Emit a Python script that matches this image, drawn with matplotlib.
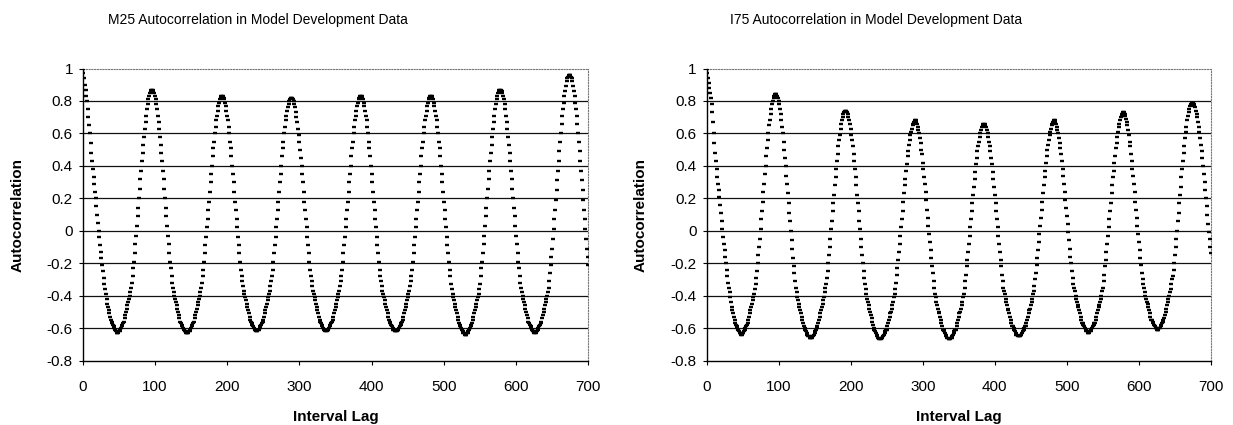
import numpy as np
import matplotlib
matplotlib.use("Agg")
import matplotlib.pyplot as plt

plt.rcParams['font.family'] = ['Liberation Sans', 'DejaVu Sans']

# Autocorrelation per interval lag (0..700), in hundredths
m25Acf = [
    100, 97, 94, 90, 87, 83, 80, 75, 70, 65, 60, 54, 48, 43, 38, 33, 29, 24, 20, 15, 10, 5, 0, -4, -9, -13, -17, -21, -25, -29, -33, -36, -39, -42, -45, -47, -49, -51, -53, -55, -56, -57, -58, -59, -60, -61, -62, -63,  # 0-47
    -63, -63, -62, -62, -61, -60, -59, -58, -57, -56, -54, -52, -50, -48, -46, -44, -42, -40, -38, -35, -32, -28, -23, -19, -14, -8, -3, 3, 9, 14, 20, 26, 32, 37, 43, 48, 53, 58, 63, 67, 71, 75, 78, 81, 83, 85, 86, 87,  # 48-95
    87, 87, 86, 85, 83, 81, 78, 75, 71, 67, 63, 58, 53, 48, 43, 37, 32, 26, 20, 14, 9, 3, -3, -8, -14, -19, -23, -28, -32, -35, -38, -40, -42, -44, -46, -48, -50, -52, -54, -56, -57, -58, -59, -60, -61, -62, -62, -63, -63,  # 96-144
    -63, -63, -62, -62, -61, -60, -59, -58, -57, -56, -54, -52, -50, -48, -46, -44, -42, -40, -38, -35, -32, -28, -24, -19, -14, -9, -4, 2, 7, 13, 18, 24, 30, 35, 40, 46, 51, 55, 60, 64, 68, 71, 74, 77, 79, 81, 82, 83,  # 145-192
    83, 83, 82, 81, 79, 77, 74, 71, 68, 64, 60, 55, 51, 46, 40, 35, 30, 24, 18, 13, 7, 2, -4, -9, -14, -19, -24, -28, -31, -34, -37, -39, -41, -43, -45, -47, -49, -51, -53, -55, -56, -57, -58, -59, -60, -61, -61, -62,  # 193-240
    -62, -62, -61, -61, -60, -59, -58, -57, -56, -55, -53, -51, -49, -47, -45, -43, -41, -39, -37, -34, -31, -28, -24, -19, -14, -9, -4, 2, 7, 13, 18, 24, 30, 35, 40, 46, 51, 55, 60, 64, 68, 71, 74, 76, 78, 80, 81, 82,  # 241-288
    82, 82, 81, 80, 78, 76, 73, 70, 67, 63, 59, 55, 50, 45, 40, 35, 30, 24, 18, 13, 7, 2, -4, -9, -14, -19, -24, -28, -31, -34, -37, -39, -41, -43, -45, -47, -49, -51, -53, -55, -56, -57, -58, -59, -60, -61, -61, -62,  # 289-336
    -62, -62, -61, -61, -60, -59, -58, -57, -56, -55, -53, -51, -49, -47, -45, -43, -41, -39, -37, -34, -31, -28, -24, -19, -14, -9, -4, 2, 7, 13, 18, 24, 30, 35, 40, 46, 51, 55, 60, 64, 68, 71, 74, 77, 79, 81, 82, 83,  # 337-384
    83, 83, 82, 81, 79, 77, 74, 71, 68, 64, 60, 55, 51, 46, 40, 35, 30, 24, 18, 13, 7, 2, -4, -9, -14, -19, -24, -28, -31, -34, -37, -39, -41, -43, -45, -47, -49, -51, -53, -55, -56, -57, -58, -59, -60, -61, -61, -62,  # 385-432
    -62, -62, -62, -61, -61, -60, -59, -58, -57, -56, -55, -53, -51, -49, -47, -45, -43, -41, -39, -37, -34, -31, -28, -24, -19, -14, -9, -4, 2, 7, 13, 18, 24, 30, 35, 40, 46, 51, 55, 60, 64, 68, 71, 74, 77, 79, 81, 82, 83,  # 433-481
    83, 83, 82, 81, 79, 77, 74, 71, 68, 64, 60, 55, 51, 46, 40, 35, 30, 24, 18, 13, 7, 2, -4, -9, -14, -19, -24, -28, -33, -36, -39, -41, -43, -45, -47, -49, -51, -53, -55, -57, -58, -59, -60, -61, -62, -63, -63, -64,  # 482-529
    -64, -64, -63, -63, -62, -61, -60, -59, -58, -57, -55, -53, -51, -49, -47, -45, -43, -41, -39, -36, -33, -28, -23, -19, -14, -8, -3, 3, 9, 14, 20, 26, 32, 37, 43, 48, 53, 58, 63, 67, 71, 75, 78, 81, 83, 85, 86, 87,  # 530-577
    87, 87, 86, 85, 83, 81, 78, 75, 71, 67, 63, 58, 53, 48, 43, 37, 32, 26, 20, 14, 9, 3, -3, -8, -14, -19, -23, -28, -32, -35, -38, -40, -42, -44, -46, -48, -50, -52, -54, -56, -57, -58, -59, -60, -61, -62, -62, -63,  # 578-625
    -63, -63, -62, -62, -61, -60, -59, -58, -57, -56, -54, -52, -50, -48, -46, -44, -42, -40, -38, -35, -31, -26, -21, -16, -11, -5, 1, 7, 13, 19, 25, 31, 37, 43, 49, 55, 60, 66, 71, 75, 79, 83, 86, 89, 92, 94, 95, 96,  # 626-673
    96, 96, 95, 94, 92, 89, 86, 83, 79, 75, 71, 66, 60, 55, 49, 43, 37, 31, 25, 19, 13, 7, 1, -5, -11, -16, -21,  # 674-700
]

i75Acf = [
    100, 97, 94, 91, 88, 85, 82, 78, 73, 67, 60, 54, 48, 43, 38, 33, 29, 25, 21, 16, 11, 6, 1, -4, -8, -12, -16, -20, -24, -28, -32, -35, -38, -41, -44, -47, -49, -51, -53, -55, -57, -58, -59, -60, -61, -62, -63, -63,  # 0-47
    -64, -64, -63, -63, -62, -61, -60, -59, -58, -57, -55, -53, -51, -49, -47, -45, -43, -41, -39, -36, -33, -29, -25, -20, -15, -10, -5, 1, 7, 12, 18, 24, 29, 35, 40, 46, 51, 56, 60, 65, 68, 72, 75, 78, 80, 82, 83, 84,  # 48-95
    84, 84, 83, 82, 80, 78, 75, 72, 68, 64, 60, 55, 50, 45, 40, 34, 29, 23, 17, 11, 6, 0, -6, -11, -17, -22, -26, -31, -35, -38, -41, -43, -45, -47, -49, -51, -53, -55, -57, -59, -60, -61, -62, -63, -64, -65, -65, -66, -66,  # 96-144
    -66, -66, -65, -65, -64, -63, -62, -61, -60, -59, -57, -55, -53, -51, -49, -47, -45, -43, -41, -38, -35, -33, -29, -25, -20, -15, -10, -5, 1, 6, 12, 17, 22, 28, 33, 38, 43, 47, 52, 56, 59, 63, 66, 68, 70, 72, 73, 74,  # 145-192
    74, 74, 73, 72, 70, 68, 66, 63, 59, 56, 52, 47, 43, 38, 33, 28, 22, 17, 12, 6, 1, -5, -10, -15, -20, -25, -29, -33, -36, -39, -42, -44, -46, -48, -50, -52, -54, -56, -58, -60, -61, -62, -63, -64, -65, -66, -66, -67,  # 193-240
    -67, -67, -66, -66, -65, -64, -63, -62, -61, -61, -59, -57, -55, -53, -51, -50, -48, -46, -44, -41, -39, -36, -32, -27, -23, -18, -13, -8, -3, 2, 7, 12, 18, 23, 28, 32, 37, 41, 46, 49, 53, 56, 59, 61, 63, 65, 66, 67,  # 241-288
    68, 68, 67, 66, 64, 62, 60, 57, 54, 50, 47, 42, 38, 33, 29, 24, 19, 13, 8, 3, -2, -7, -12, -17, -22, -26, -31, -35, -39, -41, -44, -46, -48, -50, -51, -53, -55, -57, -59, -61, -61, -62, -63, -64, -65, -66, -66, -67,  # 289-336
    -67, -67, -66, -66, -65, -64, -63, -62, -61, -61, -59, -57, -55, -53, -51, -50, -48, -46, -44, -41, -39, -35, -31, -27, -22, -18, -13, -8, -3, 2, 7, 12, 17, 22, 27, 32, 36, 41, 45, 49, 52, 55, 58, 60, 62, 64, 65, 66,  # 337-384
    66, 66, 65, 64, 62, 60, 58, 55, 52, 49, 45, 41, 36, 32, 27, 22, 17, 12, 7, 2, -3, -8, -13, -18, -22, -27, -31, -35, -37, -39, -42, -44, -46, -48, -49, -51, -53, -55, -57, -59, -59, -60, -61, -62, -63, -64, -64, -65,  # 385-432
    -65, -65, -65, -64, -64, -63, -62, -61, -60, -59, -59, -57, -55, -53, -51, -49, -48, -46, -44, -42, -39, -37, -34, -30, -26, -21, -17, -12, -7, -2, 3, 8, 13, 18, 23, 28, 33, 37, 42, 46, 50, 53, 56, 59, 61, 63, 65, 66, 67,  # 433-481
    68, 68, 67, 66, 64, 62, 60, 57, 54, 51, 47, 43, 38, 34, 29, 24, 19, 14, 9, 4, -1, -6, -11, -16, -20, -25, -29, -33, -35, -37, -40, -42, -44, -46, -47, -49, -51, -53, -55, -57, -57, -58, -59, -60, -61, -62, -62, -63,  # 482-529
    -63, -63, -62, -62, -61, -60, -59, -58, -57, -57, -55, -53, -51, -49, -47, -46, -44, -42, -40, -37, -35, -31, -27, -22, -18, -13, -8, -3, 2, 7, 12, 17, 23, 28, 33, 37, 42, 46, 51, 54, 58, 61, 64, 66, 68, 70, 71, 72,  # 530-577
    73, 73, 72, 71, 69, 67, 65, 62, 59, 55, 52, 47, 43, 38, 34, 29, 24, 18, 13, 8, 3, -2, -7, -12, -17, -21, -26, -30, -33, -35, -38, -40, -42, -44, -45, -47, -49, -51, -53, -55, -55, -56, -57, -58, -59, -60, -60, -61,  # 578-625
    -61, -61, -60, -60, -59, -58, -57, -56, -55, -54, -52, -50, -48, -46, -44, -42, -40, -38, -36, -33, -30, -28, -24, -20, -15, -10, -5, 0, 6, 11, 17, 22, 27, 33, 38, 43, 48, 52, 57, 61, 64, 68, 71, 73, 75, 77, 78, 79,  # 626-673
    79, 79, 78, 77, 76, 74, 72, 70, 67, 64, 61, 57, 53, 49, 45, 40, 35, 30, 25, 20, 15, 10, 4, -1, -5, -10, -14,  # 674-700
]

panelTitles = ["M25 Autocorrelation in Model Development Data",
               "I75 Autocorrelation in Model Development Data"]
xTicks = [0, 100, 200, 300, 400, 500, 600, 700]
yTicks = [-0.8, -0.6, -0.4, -0.2, 0, 0.2, 0.4, 0.6, 0.8, 1]
yTickLabels = ["-0.8", "-0.6", "-0.4", "-0.2", "0", "0.2", "0.4", "0.6", "0.8", "1"]

W, H = 1233, 425
fig = plt.figure(figsize=(W / 100, H / 100), dpi=100)

# pixel boxes of the two plot areas: left, right, top, bottom
boxes = [(82.7, 588.3, 68.5, 360.5), (706.5, 1211.0, 68.5, 360.5)]
titleX = [258, 876]
yLabelX = [18, 641]

for i, series in enumerate([m25Acf, i75Acf]):
    x0, x1, y0, y1 = boxes[i]
    ax = fig.add_axes([x0 / W, 1 - y1 / H, (x1 - x0) / W, (y1 - y0) / H])
    lags = np.arange(len(series))
    vals = np.array(series) / 100.0

    for yv in yTicks[1:-1]:
        ax.axhline(yv, color="#111111", lw=0.9, zorder=1)
    ax.plot(lags, vals, ls="none", marker="_", ms=2.7, mew=1.7,
            color="black", zorder=3)

    ax.set_xlim(0, 700)
    ax.set_ylim(-0.8, 1.0)
    ax.set_xticks(xTicks)
    ax.set_xticklabels([str(t) for t in xTicks])
    ax.set_yticks(yTicks)
    ax.set_yticklabels(yTickLabels)
    ax.tick_params(axis="both", direction="out", length=3, width=0.8,
                   labelsize=11, colors="black")
    ax.tick_params(axis="x", pad=11)
    ax.tick_params(axis="y", pad=4)

    for side in ["left", "bottom"]:
        ax.spines[side].set_color("black")
        ax.spines[side].set_linewidth(1.0)
    for side in ["top", "right"]:
        ax.spines[side].set_color("#777777")
        ax.spines[side].set_linewidth(0.8)
        ax.spines[side].set_linestyle((0, (1, 1.5)))

    fig.text(titleX[i] / W, 1 - 20 / H, panelTitles[i], ha="center",
             va="center", fontsize=10)
    fig.text(yLabelX[i] / W, 1 - (y0 + y1) / 2 / H, "Autocorrelation",
             rotation=90, ha="center", va="center", fontsize=11,
             fontweight="bold")
    fig.text((x0 + x1) / 2 / W, 1 - 417 / H, "Interval Lag", ha="center",
             va="center", fontsize=11, fontweight="bold")

fig.savefig("out.png", dpi=100)
